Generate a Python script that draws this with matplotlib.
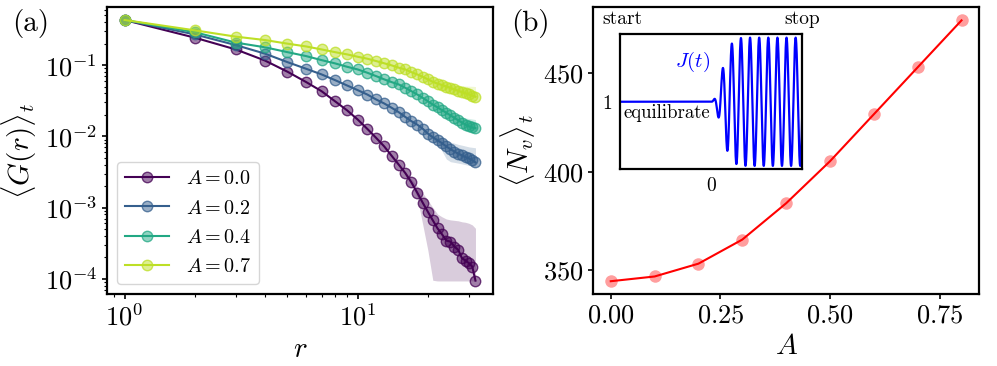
import numpy as np
import matplotlib
matplotlib.use("Agg")
import matplotlib.pyplot as plt
from matplotlib.transforms import blended_transform_factory

plt.rcParams['font.family'] = 'serif'
plt.rcParams['font.serif'] = ['cmr10']
plt.rcParams['mathtext.fontset'] = 'cm'
plt.rcParams['axes.formatter.use_mathtext'] = True

# panel (a): correlation function vs distance
r = np.arange(1, 33)
G = {
    "0.0": [0.43, 0.243, 0.166, 0.116, 0.0807, 0.058, 0.043, 0.031, 0.0232, 0.0172,
            0.0127, 0.0095, 0.0072, 0.0053, 0.0040, 0.00305, 0.00225, 0.00162, 0.00117, 0.00087,
            0.00066, 0.00051, 0.00042, 0.000343, 0.000332, 0.000282, 0.000254, 0.000194, 0.00018, 0.000165,
            0.000148, 0.000094],
    "0.2": [0.43, 0.27, 0.191, 0.145, 0.110, 0.089, 0.074, 0.0615, 0.0518, 0.0445,
            0.0386, 0.0329, 0.0289, 0.0251, 0.0218, 0.0187, 0.0163, 0.0146, 0.0128, 0.0109,
            0.0097, 0.0088, 0.0080, 0.0072, 0.0066, 0.0061, 0.0057, 0.0054, 0.0051, 0.0049,
            0.0046, 0.0043],
    "0.4": [0.43, 0.29, 0.207, 0.178, 0.152, 0.134, 0.1175, 0.1057, 0.0948, 0.0869,
            0.0781, 0.070, 0.063, 0.0576, 0.0535, 0.048, 0.043, 0.0387, 0.0347, 0.0311,
            0.0279, 0.0255, 0.0233, 0.0214, 0.0197, 0.0181, 0.0168, 0.0156, 0.0146, 0.0138,
            0.0133, 0.0130],
    "0.7": [0.43, 0.308, 0.251, 0.225, 0.200, 0.183, 0.166, 0.152, 0.1415, 0.131,
            0.123, 0.114, 0.106, 0.099, 0.092, 0.087, 0.0796, 0.074, 0.0686, 0.063,
            0.0583, 0.055, 0.0525, 0.050, 0.0478, 0.0455, 0.0435, 0.0418, 0.0402, 0.0388,
            0.0373, 0.036],
}
# spread over time (only the tail is visible)
band_r = {"0.0": np.arange(16, 33), "0.2": np.arange(20, 33),
          "0.4": np.arange(24, 33), "0.7": np.arange(22, 33)}
band_hi = {
    "0.0": [0.0032, 0.0025, 0.0020, 0.0016, 0.00127, 0.0010, 0.00081, 0.00074, 0.00069,
            0.00067, 0.00066, 0.00065, 0.00063, 0.00062, 0.0006, 0.00057, 0.00051],
    "0.2": [0.0112, 0.0103, 0.0098, 0.0092, 0.0087, 0.0083, 0.0080, 0.0077, 0.0075,
            0.0073, 0.0071, 0.0070, 0.0069],
    "0.4": [0.0216, 0.0205, 0.0195, 0.0190, 0.0185, 0.0181, 0.0178, 0.0175, 0.0172],
    "0.7": [0.0555, 0.0535, 0.0525, 0.0520, 0.0515, 0.0512, 0.0510, 0.0508, 0.0506, 0.0504, 0.050],
}
band_lo = {
    "0.0": [0.0029, 0.0021, 0.0014, 0.00058, 0.00025, 0.000095, 0.000093, 0.000093, 0.000093,
            0.000093, 0.000093, 0.000093, 0.000093, 0.000093, 0.000093, 0.000093, 0.000093],
    "0.2": [0.0106, 0.0092, 0.0080, 0.0062, 0.0048, 0.0044, 0.0043, 0.0042, 0.0041,
            0.0040, 0.0039, 0.0038, 0.0038],
    "0.4": [0.0212, 0.0192, 0.0175, 0.0160, 0.0148, 0.0138, 0.0130, 0.0123, 0.0117],
    "0.7": [0.0545, 0.0515, 0.0490, 0.0465, 0.0445, 0.0425, 0.0405, 0.0390, 0.0375, 0.0362, 0.035],
}
A_labels = ["0.0", "0.2", "0.4", "0.7"]
colors = plt.cm.viridis(np.linspace(0, 0.9, 4))

# panel (b): mean vortex number vs drive amplitude
A_vals = [0.0, 0.1, 0.2, 0.3, 0.4, 0.5, 0.6, 0.7, 0.8]
Nv = [344.5, 346.9, 353.4, 365.6, 384.0, 405.3, 429.1, 452.9, 476.7]

# inset: schematic drive protocol J(t)
t_range = (-10, 10)
drive_period = 1.0
ramp_width = 1.46

fig = plt.figure(figsize=(9.97, 3.66), dpi=100)
ax1 = fig.add_axes([0.1073, 0.1967, 0.3872, 0.7843])
ax2 = fig.add_axes([0.595, 0.196, 0.387, 0.784])

for lab, c in zip(A_labels, colors):
    ax1.fill_between(band_r[lab], band_lo[lab], band_hi[lab], color=c, alpha=0.2, lw=0)
    ax1.plot(r, G[lab], '-o', color=c, lw=1.5, ms=7.5,
             mfc=(*c[:3], 0.5), mec=(*c[:3], 0.75), mew=1.0,
             label=r"$A = %s$" % lab)
ax1.set_xscale('log')
ax1.set_yscale('log')
ax1.set_xlabel(r"$r$", fontsize=21)
ax1.set_ylabel(r"$\langle G(r)\rangle_t$", fontsize=21)
ax1.legend(loc='lower left', fontsize=14.5, labelspacing=0.55, handlelength=2.2,
           handletextpad=0.8)

ax2.plot(A_vals, Nv, '-', color='red', lw=1.5)
ax2.plot(A_vals, Nv, 'o', color='red', alpha=0.38, ms=9, mew=0)
ax2.set_xticks([0.0, 0.25, 0.5, 0.75])
ax2.set_yticks([350, 400, 450])
ax2.set_xlabel(r"$A$", fontsize=21)
ax2.set_ylabel(r"$\langle N_v\rangle_t$", fontsize=21)

for ax in (ax1, ax2):
    for s in ax.spines.values():
        s.set_linewidth(1.6)
    ax.tick_params(which='major', labelsize=19, length=3.5, width=1.2)
    ax.tick_params(which='minor', length=2, width=0.8)

fig.text(0.012, 0.935, "(a)", fontsize=21, va='center')
fig.text(0.513, 0.935, "(b)", fontsize=21, va='center')

# inset
axin = fig.add_axes([0.622, 0.538, 0.1829, 0.368])
t = np.linspace(t_range[0], t_range[1], 3000)
ramp = np.where(t > 0, 1 - np.exp(-(t / ramp_width) ** 2), 0.0)
J = 1 + ramp * np.sin(2 * np.pi * t / drive_period)
axin.plot(t, J, color='blue', lw=1.6)
axin.set_xlim(t_range)
axin.set_ylim(-0.05, 2.05)
axin.set_xticks([0])
axin.set_yticks([1])
axin.tick_params(length=0, labelsize=14, pad=6)
for s in axin.spines.values():
    s.set_linewidth(1.6)
axin.text(-2.1, 1.62, r"$J(t)$", color='blue', fontsize=15, ha='center', va='center')
axin.text(-0.1, 0.82, "equilibrate", fontsize=13.5, ha='right', va='center')
trans = blended_transform_factory(axin.transData, axin.transAxes)
axin.text(t_range[0] + 0.3, 1.074, "start", transform=trans, ha='center', va='baseline', fontsize=14)
axin.text(t_range[1], 1.074, "stop", transform=trans, ha='center', va='baseline', fontsize=14)

fig.savefig("out.png", dpi=100)
